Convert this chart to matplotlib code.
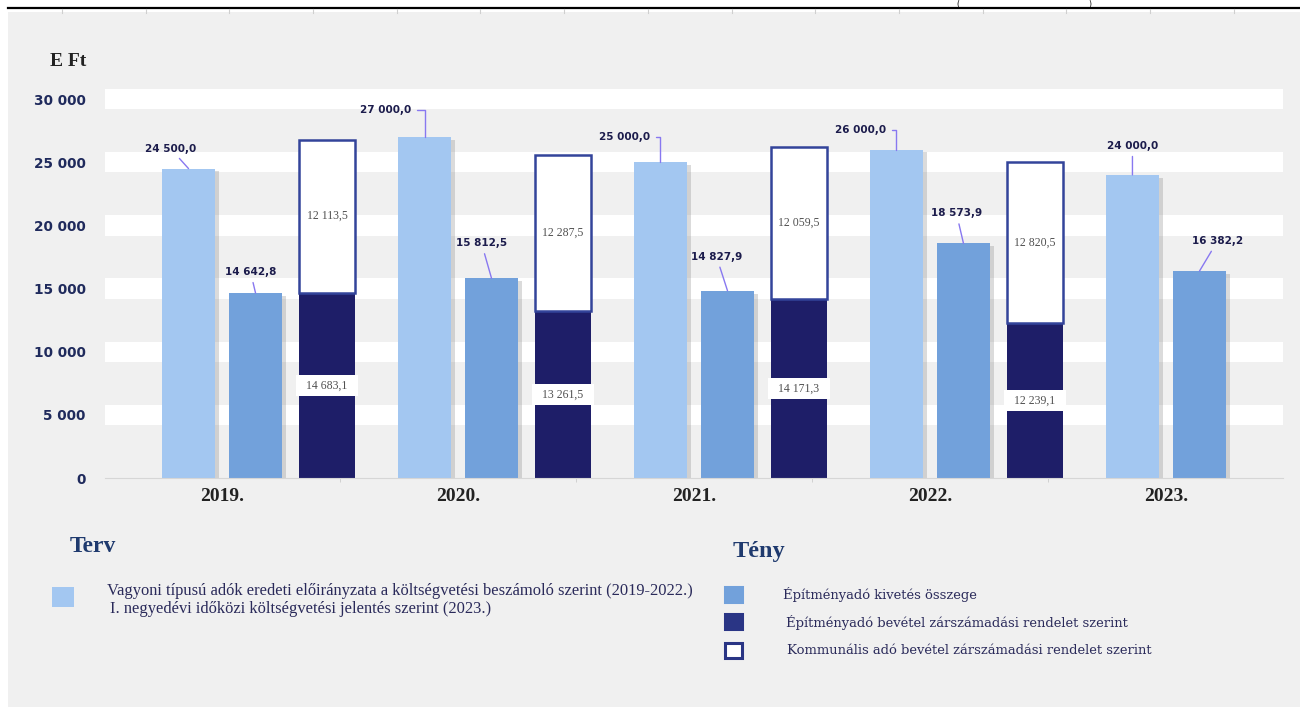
import numpy as np
import matplotlib.pyplot as plt
import matplotlib.patheffects as pe
from matplotlib.patches import Rectangle
from matplotlib.lines import Line2D

# Adatok (E Ft)
evek = ["2019.", "2020.", "2021.", "2022.", "2023."]
terv = [24500.0, 27000.0, 25000.0, 26000.0, 24000.0]
kivetes = [14642.8, 15812.5, 14827.9, 18573.9, 16382.2]
epitmeny_bevetel = [14683.1, 13261.5, 14171.3, 12239.1]
kommunalis = [12113.5, 12287.5, 12059.5, 12820.5]
y_ticks = [0, 5000, 10000, 15000, 20000, 25000, 30000]

# címkék eltolása pixelben (dx, dy)
terv_eltolas = [(-18, 20), (-39, 27), (-36, 25), (-36, 20), (0, 29)]
terv_konyok = [False, True, True, True, False]
kivetes_eltolas = [(-5, 21), (-10, 35), (-11, 34), (-7, 30), (18, 30)]

# színek
VILAGOS = '#a3c7f1'
KOZEPES = '#72a1db'
SOTET = '#1e1e68'
KERET = '#33449a'
HATTER = '#f0f0f0'
SZOVEG = '#1c1c4c'
VONAL = '#8878f0'

W, H = 1300, 707
fig = plt.figure(figsize=(13, 7.07), dpi=100, facecolor='white')

# szürke panel + felső táblázatvonal
fig.add_artist(Rectangle((8 / W, 0), 1 - 8 / W, 1 - 12 / H, transform=fig.transFigure,
                         facecolor=HATTER, edgecolor='none', zorder=-10))
fig.add_artist(Line2D([8 / W, 1], [1 - 8 / H, 1 - 8 / H], transform=fig.transFigure,
                      color='black', lw=1.6))
for px in np.arange(62, W, 83.7):
    fig.add_artist(Line2D([px / W, px / W], [1 - 9 / H, 1 - 13 / H], transform=fig.transFigure,
                          color='#cfcfcf', lw=0.8))
fig.text(958 / W, 1 - 4 / H, "(", fontsize=5.5, ha='center', va='center', color='black')
fig.text(1090 / W, 1 - 4 / H, ")", fontsize=5.5, ha='center', va='center', color='black')

ax = fig.add_axes([105 / W, 1 - 478 / H, (1283 - 105) / W, (478 - 86.5) / H])
ax.set_facecolor('none')

x = np.arange(len(evek))
w = 0.225
arnyek = [pe.SimplePatchShadow(offset=(3, -2), shadow_rgbFace='#888888', alpha=0.3), pe.Normal()]

ax.bar(x - 0.142, terv, width=w, color=VILAGOS, zorder=3, path_effects=arnyek)
ax.bar(x + 0.142, kivetes, width=w, color=KOZEPES, zorder=3, path_effects=arnyek)

xs = x[:len(epitmeny_bevetel)] + 0.445
ax.bar(xs, epitmeny_bevetel, width=0.235, color=SOTET, zorder=3)
ax.bar(xs, kommunalis, bottom=epitmeny_bevetel, width=0.235, color='white',
       edgecolor=KERET, lw=1.8, zorder=3)

# fehér sávok
for t in y_ticks[1:]:
    ax.axhspan(t - 800, t + 800, color='white', zorder=0, lw=0)

ax.set_xlim(-0.496, 4.496)
ax.set_ylim(0, 31000)


def ft(v):
    s = f"{v:,.1f}".replace(",", " ").replace(".", ",")
    return s


# értékcímkék vezetővonallal
for i in range(len(evek)):
    dx, dy = terv_eltolas[i]
    kapcs = "angle,angleA=0,angleB=90,rad=0" if terv_konyok[i] else "arc3"
    rp = (1, 0.5) if terv_konyok[i] else (0.5, 0.5)
    ax.annotate(ft(terv[i]), xy=(x[i] - 0.142, terv[i]), xytext=(dx, dy),
                textcoords='offset pixels', ha='center', va='center',
                fontsize=7.5, fontweight='bold', color=SZOVEG, zorder=5,
                arrowprops=dict(arrowstyle='-', color=VONAL, lw=1, shrinkA=2, shrinkB=0,
                                connectionstyle=kapcs, relpos=rp))
    dx, dy = kivetes_eltolas[i]
    ax.annotate(ft(kivetes[i]), xy=(x[i] + 0.142, kivetes[i]), xytext=(dx, dy),
                textcoords='offset pixels', ha='center', va='center',
                fontsize=7.5, fontweight='bold', color=SZOVEG, zorder=5,
                arrowprops=dict(arrowstyle='-', color=VONAL, lw=1, shrinkA=2, shrinkB=0))

for xi, b, k in zip(xs, epitmeny_bevetel, kommunalis):
    ax.text(xi, b + k / 2, ft(k), ha='center', va='center', fontsize=8.5,
            family='Liberation Serif', color='#505050', zorder=5)
    ax.text(xi, b / 2, "  " + ft(b) + "  ", ha='center', va='center', fontsize=8.5,
            family='Liberation Serif', color='#505050', zorder=5,
            bbox=dict(boxstyle='square,pad=0.4', facecolor='white', edgecolor='none'))

# tengelyek
ax.set_yticks(y_ticks)
ax.set_yticklabels([f"{t:,}".replace(",", " ") for t in y_ticks], fontsize=9.8,
                   fontweight='bold', color='#1f2a5c')
ax.tick_params(axis='y', length=0, pad=14)
ax.set_xticks(x)
ax.set_xticklabels(evek, fontsize=14, fontweight='bold', family='Liberation Serif', color='#222222')
ax.tick_params(axis='x', length=0, pad=7)
ax.set_xticks(np.arange(0.5, len(evek) - 1, 1), minor=True)
ax.tick_params(axis='x', which='minor', length=3, color='#cccccc')
for s in ['left', 'right', 'top']:
    ax.spines[s].set_visible(False)
ax.spines['bottom'].set_color('#d6d6d6')
ax.spines['bottom'].set_zorder(4)

fig.text(50 / W, 1 - 61 / H, "E Ft", fontsize=14, fontweight='bold', family='Liberation Serif',
         color='#222222', va='center', ha='left')

# jelmagyarázat
fig.text(70 / W, 1 - 547 / H, "Terv", fontsize=17, fontweight='bold', family='Liberation Serif',
         color='#1f3a6e', va='center')
fig.add_artist(Rectangle((52 / W, 1 - 607 / H), 22 / W, 20 / H, transform=fig.transFigure,
                         facecolor=VILAGOS, edgecolor='none'))
fig.text(107 / W, 1 - 591 / H, "Vagyoni típusú adók eredeti előirányzata a költségvetési beszámoló szerint (2019-2022.)",
         fontsize=11.9, family='Liberation Serif', color='#2a2a5a', va='center')
fig.text(110 / W, 1 - 609 / H, "I. negyedévi időközi költségvetési jelentés szerint (2023.)",
         fontsize=11.9, family='Liberation Serif', color='#2a2a5a', va='center')

fig.text(733 / W, 1 - 551 / H, "Tény", fontsize=17.5, fontweight='bold', family='Liberation Serif',
         color='#1f3a6e', va='center')
teny_elemek = [("Építményadó kivetés összege", KOZEPES, KOZEPES, 595, 783),
               ("Építményadó bevétel zárszámadási rendelet szerint", '#2a3585', '#2a3585', 622, 786),
               ("Kommunális adó bevétel zárszámadási rendelet szerint", 'white', '#2a3585', 651, 787)]
for szoveg, fc, ec, yy, xx in teny_elemek:
    fig.add_artist(Rectangle((725 / W, 1 - (yy + 7) / H), 17 / W, 15 / H, transform=fig.transFigure,
                             facecolor=fc, edgecolor=ec, lw=2.2))
    fig.text(xx / W, 1 - yy / H, szoveg, fontsize=9.45, family='DejaVu Serif', color='#2a2a5a', va='center')

fig.savefig('out.png', dpi=100, facecolor=fig.get_facecolor())
